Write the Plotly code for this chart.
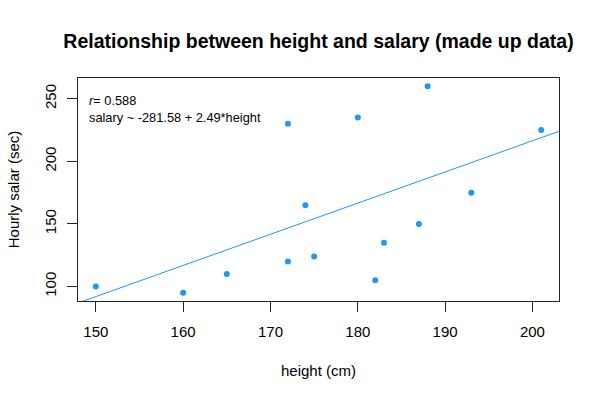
import plotly.graph_objects as go

# made up data
height = [150, 160, 165, 172, 172, 174, 175, 180, 182, 183, 187, 188, 193, 201]
salary = [100, 95, 110, 230, 120, 165, 124, 235, 105, 135, 150, 260, 175, 225]

intercept = -281.58
slope = 2.49
r_value = 0.588

x_ticks = [150, 160, 170, 180, 190, 200]
y_ticks = [100, 150, 200, 250]

blue = "#2196F3"
font = "Liberation Sans, Arial, sans-serif"

# R-style 4% padding around the data
x_pad = (max(height) - min(height)) * 0.04
y_pad = (max(salary) - min(salary)) * 0.04
x_range = [min(height) - x_pad, max(height) + x_pad]
y_range = [min(salary) - y_pad, max(salary) + y_pad]

fig = go.Figure()

fig.add_trace(go.Scatter(
    x=x_range,
    y=[intercept + slope * v for v in x_range],
    mode="lines",
    line=dict(color=blue, width=1),
    hoverinfo="skip"))

fig.add_trace(go.Scatter(
    x=height, y=salary,
    mode="markers",
    marker=dict(color=blue, size=6)))

fig.add_annotation(
    xref="paper", yref="paper", x=0.018, y=0.9, xanchor="left", yanchor="middle",
    text="<i>r</i>= " + str(r_value), showarrow=False,
    font=dict(size=12.8, color="black", family=font))
fig.add_annotation(
    xref="paper", yref="paper", x=0.018, y=0.822, xanchor="left", yanchor="middle",
    text="salary ~ %.2f + %.2f*height" % (intercept, slope), showarrow=False,
    font=dict(size=12.8, color="black", family=font))

axis_style = dict(
    showgrid=False, zeroline=False, showline=True, mirror=True,
    linecolor="#222", linewidth=1, ticks="outside", ticklen=10,
    tickcolor="#222", tickfont=dict(size=15, color="black", family=font))

fig.update_xaxes(range=x_range, tickvals=x_ticks, ticklabelstandoff=7,
                 title=dict(text="height (cm)", standoff=26,
                            font=dict(size=15, color="black", family=font)),
                 **axis_style)
fig.update_yaxes(range=y_range, tickvals=y_ticks, tickangle=-90, ticklabelstandoff=5,
                 title=dict(text="Hourly salar (sec)", standoff=18,
                            font=dict(size=15, color="black", family=font)),
                 **axis_style)

fig.update_layout(
    width=600, height=400,
    margin=dict(l=78, r=41, t=78, b=99, autoexpand=False),
    paper_bgcolor="white", plot_bgcolor="white",
    showlegend=False,
    title=dict(text="<b>Relationship between height and salary (made up data)</b>",
               x=(78 + 559) / 2 / 600, xanchor="center", y=1 - 41 / 400, yanchor="middle",
               font=dict(size=19.5, color="black", family=font)))

# drop the page's default 8px body margin so the figure sits at the corner
fig.write_html("out.html", config={"displayModeBar": False},
               post_script="document.body.style.margin='0';")
